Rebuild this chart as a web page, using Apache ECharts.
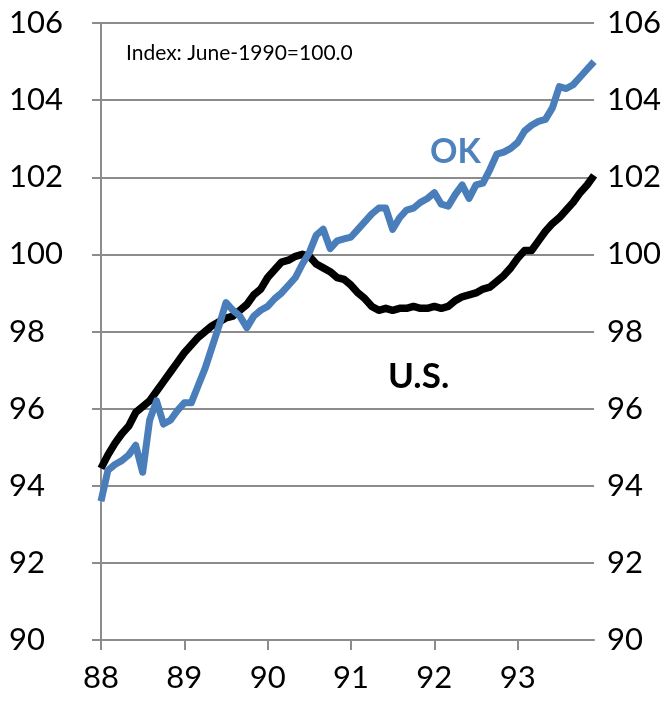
<!DOCTYPE html>
<html>
<head>
<meta charset="utf-8">
<script src="https://cdn.jsdelivr.net/npm/echarts@6/dist/echarts.min.js"></script>
<style>
html,body{margin:0;padding:0;background:#fff;}
#main{width:664px;height:704px;}
</style>
</head>
<body>
<div id="main"></div>
<script>
// years shown on the x axis (monthly data, Jan 88 - Dec 93)
var years = ['88', '89', '90', '91', '92', '93'];
var months = [];
for (var y = 0; y < years.length; y++) {
    for (var m = 1; m <= 12; m++) {
        months.push(years[y] + '-' + (m < 10 ? '0' + m : m));
    }
}

// Oklahoma index
var okData = [
    93.6, 94.4, 94.55, 94.65, 94.8, 95.05, 94.35, 95.7, 96.2, 95.6, 95.7, 95.95,
    96.15, 96.15, 96.6, 97.05, 97.6, 98.15, 98.75, 98.55, 98.4, 98.1, 98.4, 98.55,
    98.65, 98.85, 99.0, 99.2, 99.4, 99.75, 100.05, 100.5, 100.65, 100.15, 100.35, 100.4,
    100.45, 100.65, 100.85, 101.05, 101.2, 101.2, 100.65, 100.95, 101.15, 101.2, 101.35, 101.45,
    101.6, 101.3, 101.25, 101.55, 101.8, 101.45, 101.8, 101.85, 102.2, 102.6, 102.65, 102.75,
    102.9, 103.2, 103.35, 103.45, 103.5, 103.8, 104.35, 104.3, 104.4, 104.6, 104.8, 105.0
];

// U.S. index
var usData = [
    94.45, 94.8, 95.1, 95.35, 95.55, 95.9, 96.05, 96.2, 96.45, 96.7, 96.95, 97.2,
    97.45, 97.65, 97.85, 98.0, 98.15, 98.25, 98.35, 98.4, 98.55, 98.7, 98.95, 99.1,
    99.4, 99.6, 99.8, 99.85, 99.95, 100.0, 99.95, 99.75, 99.65, 99.55, 99.4, 99.35,
    99.2, 99.0, 98.85, 98.65, 98.55, 98.6, 98.55, 98.6, 98.6, 98.65, 98.6, 98.6,
    98.65, 98.6, 98.65, 98.8, 98.9, 98.95, 99.0, 99.1, 99.15, 99.3, 99.45, 99.65,
    99.9, 100.1, 100.1, 100.35, 100.6, 100.8, 100.95, 101.15, 101.35, 101.6, 101.8, 102.05
];

var yMin = 90, yMax = 106, yStep = 2;

var fontFam = 'Lato, "Noto Sans", sans-serif';
var gridGray = '#8c8c8c';

var myChart = echarts.init(document.getElementById('main'));

var option = {
    animation: false,
    backgroundColor: '#fff',
    grid: {
        left: 101,
        right: 67,
        top: 23,
        bottom: 64
    },
    xAxis: {
        type: 'category',
        data: months,
        boundaryGap: false,
        axisLine: { lineStyle: { color: gridGray, width: 2 } },
        axisTick: {
            interval: 11,
            length: 10,
            lineStyle: { color: gridGray, width: 2 }
        },
        axisLabel: {
            interval: 11,
            margin: 22,
            color: '#000',
            fontSize: 31,
            fontFamily: fontFam,
            formatter: function (v) { return v.split('-')[0]; }
        },
        splitLine: { show: false }
    },
    yAxis: [
        {
            type: 'value',
            min: yMin,
            max: yMax,
            interval: yStep,
            axisLine: { show: true, lineStyle: { color: gridGray, width: 2 } },
            axisTick: { show: true, length: 9, lineStyle: { color: gridGray, width: 2 } },
            axisLabel: {
                align: 'left',
                margin: 92,
                color: '#000',
                fontSize: 31,
                fontFamily: fontFam
            },
            splitLine: { lineStyle: { color: gridGray, width: 2 } }
        },
        {
            type: 'value',
            position: 'right',
            min: yMin,
            max: yMax,
            interval: yStep,
            axisLine: { show: false },
            axisTick: { show: false },
            axisLabel: {
                align: 'left',
                margin: 13,
                color: '#000',
                fontSize: 31,
                fontFamily: fontFam
            },
            splitLine: { show: false }
        }
    ],
    series: [
        {
            name: 'U.S.',
            type: 'line',
            data: usData,
            symbol: 'none',
            lineStyle: { color: '#000', width: 7.5, join: 'round' },
            z: 3
        },
        {
            name: 'OK',
            type: 'line',
            data: okData,
            symbol: 'none',
            lineStyle: { color: '#4a7ebb', width: 7, join: 'round' },
            z: 4
        }
    ],
    graphic: [
        {
            type: 'text',
            left: 126,
            top: 43,
            style: { text: 'Index: June-1990=100.0', fill: '#000', font: '21px ' + fontFam }
        },
        {
            type: 'text',
            left: 430,
            top: 135,
            style: { text: 'OK', fill: '#4f81bd', font: 'bold 34px ' + fontFam }
        },
        {
            type: 'text',
            left: 388,
            top: 359,
            style: { text: 'U.S.', fill: '#000', font: 'bold 35px ' + fontFam }
        }
    ]
};

myChart.setOption(option);
</script>
</body>
</html>
